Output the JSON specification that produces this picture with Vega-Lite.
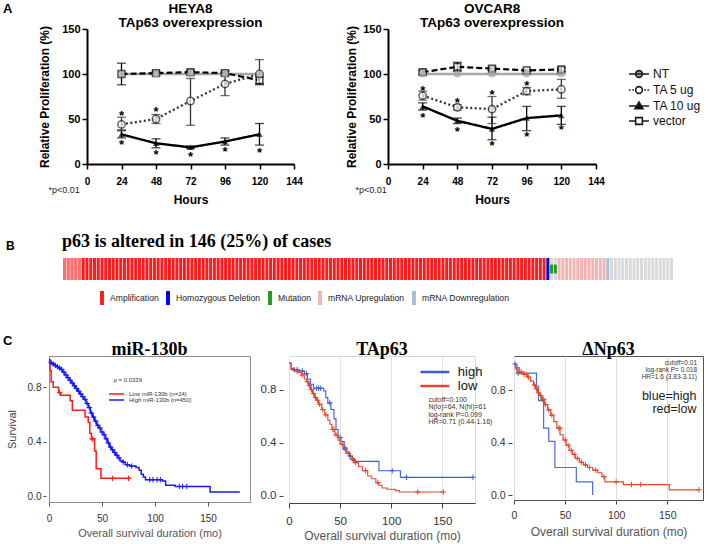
{
 "$schema": "https://vega.github.io/schema/vega-lite/v6.json",
 "background": "white",
 "padding": {"left": 3, "top": 1, "right": 2, "bottom": 2},
 "config": {"font": "Liberation Sans", "view": {"stroke": null}, "title": {"color": "black"}},
 "datasets": {
  "heya": [
   {"s":"NT","t":24,"y":100,"lo":99,"hi":101},{"s":"NT","t":48,"y":100,"lo":99,"hi":101},{"s":"NT","t":72,"y":100,"lo":99,"hi":101},{"s":"NT","t":96,"y":100,"lo":99,"hi":101},{"s":"NT","t":120,"y":100,"lo":99,"hi":101},
   {"s":"vector","t":24,"y":100,"lo":88,"hi":112},{"s":"vector","t":48,"y":101,"lo":99,"hi":103},{"s":"vector","t":72,"y":102,"lo":100,"hi":104},{"s":"vector","t":96,"y":101,"lo":99,"hi":103},{"s":"vector","t":120,"y":93,"lo":89,"hi":97},
   {"s":"TA 5 ug","t":24,"y":44,"lo":38,"hi":52},{"s":"TA 5 ug","t":48,"y":50,"lo":45,"hi":55},{"s":"TA 5 ug","t":72,"y":70,"lo":43,"hi":95},{"s":"TA 5 ug","t":96,"y":89,"lo":76,"hi":99},{"s":"TA 5 ug","t":120,"y":100,"lo":88,"hi":116},
   {"s":"TA 10 ug","t":24,"y":33,"lo":29,"hi":37},{"s":"TA 10 ug","t":48,"y":23,"lo":18,"hi":28},{"s":"TA 10 ug","t":72,"y":18.5,"lo":17,"hi":20},{"s":"TA 10 ug","t":96,"y":25,"lo":21,"hi":29},{"s":"TA 10 ug","t":120,"y":33,"lo":21,"hi":45}
  ],
  "ovcar": [
   {"s":"NT","t":24,"y":100,"lo":99,"hi":101},{"s":"NT","t":48,"y":100,"lo":99,"hi":101},{"s":"NT","t":72,"y":100,"lo":99,"hi":101},{"s":"NT","t":96,"y":100,"lo":99,"hi":101},{"s":"NT","t":120,"y":100,"lo":99,"hi":101},
   {"s":"vector","t":24,"y":102,"lo":100,"hi":104},{"s":"vector","t":48,"y":108,"lo":103,"hi":113},{"s":"vector","t":72,"y":106,"lo":104,"hi":108},{"s":"vector","t":96,"y":104,"lo":103,"hi":105},{"s":"vector","t":120,"y":105,"lo":103,"hi":107},
   {"s":"TA 5 ug","t":24,"y":76,"lo":71,"hi":81},{"s":"TA 5 ug","t":48,"y":63,"lo":60,"hi":66},{"s":"TA 5 ug","t":72,"y":61,"lo":45,"hi":75},{"s":"TA 5 ug","t":96,"y":81,"lo":77,"hi":85},{"s":"TA 5 ug","t":120,"y":83,"lo":73,"hi":94},
   {"s":"TA 10 ug","t":24,"y":64,"lo":60,"hi":68},{"s":"TA 10 ug","t":48,"y":48,"lo":45,"hi":51},{"s":"TA 10 ug","t":72,"y":39,"lo":27,"hi":52},{"s":"TA 10 ug","t":96,"y":51,"lo":37,"hi":64},{"s":"TA 10 ug","t":120,"y":54,"lo":44,"hi":64}
  ],
  "heyaStar": [{"t":24,"y":57},{"t":48,"y":61},{"t":24,"y":24},{"t":48,"y":13},{"t":72,"y":11},{"t":96,"y":16.5},{"t":120,"y":16}],
  "ovcarStar": [{"t":24,"y":84},{"t":24,"y":55},{"t":48,"y":71},{"t":48,"y":39},{"t":72,"y":80},{"t":72,"y":23},{"t":96,"y":90},{"t":96,"y":33},{"t":120,"y":41}],
  "onco": [
   {"i":1,"t":"Amplification","u":1},{"i":2,"t":"Amplification","u":1},{"i":3,"t":"Amplification","u":1},{"i":4,"t":"Amplification","u":1},{"i":5,"t":"Amplification","u":1},
   {"i":6,"t":"Amplification"},{"i":7,"t":"Amplification"},{"i":8,"t":"Amplification"},{"i":9,"t":"Amplification"},{"i":10,"t":"Amplification"},
   {"i":11,"t":"Amplification"},{"i":12,"t":"Amplification"},{"i":13,"t":"Amplification"},{"i":14,"t":"Amplification"},{"i":15,"t":"Amplification"},
   {"i":16,"t":"Amplification"},{"i":17,"t":"Amplification"},{"i":18,"t":"Amplification"},{"i":19,"t":"Amplification"},{"i":20,"t":"Amplification"},
   {"i":21,"t":"Amplification"},{"i":22,"t":"Amplification"},{"i":23,"t":"Amplification"},{"i":24,"t":"Amplification"},{"i":25,"t":"Amplification"},
   {"i":26,"t":"Amplification"},{"i":27,"t":"Amplification"},{"i":28,"t":"Amplification"},{"i":29,"t":"Amplification"},{"i":30,"t":"Amplification"},
   {"i":31,"t":"Amplification"},{"i":32,"t":"Amplification"},{"i":33,"t":"Amplification"},{"i":34,"t":"Amplification"},{"i":35,"t":"Amplification"},
   {"i":36,"t":"Amplification"},{"i":37,"t":"Amplification"},{"i":38,"t":"Amplification"},{"i":39,"t":"Amplification"},{"i":40,"t":"Amplification"},
   {"i":41,"t":"Amplification"},{"i":42,"t":"Amplification"},{"i":43,"t":"Amplification"},{"i":44,"t":"Amplification"},{"i":45,"t":"Amplification"},
   {"i":46,"t":"Amplification"},{"i":47,"t":"Amplification"},{"i":48,"t":"Amplification"},{"i":49,"t":"Amplification"},{"i":50,"t":"Amplification"},
   {"i":51,"t":"Amplification"},{"i":52,"t":"Amplification"},{"i":53,"t":"Amplification"},{"i":54,"t":"Amplification"},{"i":55,"t":"Amplification"},
   {"i":56,"t":"Amplification"},{"i":57,"t":"Amplification"},{"i":58,"t":"Amplification"},{"i":59,"t":"Amplification"},{"i":60,"t":"Amplification"},
   {"i":61,"t":"Amplification"},{"i":62,"t":"Amplification"},{"i":63,"t":"Amplification"},{"i":64,"t":"Amplification"},{"i":65,"t":"Amplification"},
   {"i":66,"t":"Amplification"},{"i":67,"t":"Amplification"},{"i":68,"t":"Amplification"},{"i":69,"t":"Amplification"},{"i":70,"t":"Amplification"},
   {"i":71,"t":"Amplification"},{"i":72,"t":"Amplification"},{"i":73,"t":"Amplification"},{"i":74,"t":"Amplification"},{"i":75,"t":"Amplification"},
   {"i":76,"t":"Amplification"},{"i":77,"t":"Amplification"},{"i":78,"t":"Amplification"},{"i":79,"t":"Amplification"},{"i":80,"t":"Amplification"},
   {"i":81,"t":"Amplification"},{"i":82,"t":"Amplification"},{"i":83,"t":"Amplification"},{"i":84,"t":"Amplification"},{"i":85,"t":"Amplification"},
   {"i":86,"t":"Amplification"},{"i":87,"t":"Amplification"},{"i":88,"t":"Amplification"},{"i":89,"t":"Amplification"},{"i":90,"t":"Amplification"},
   {"i":91,"t":"Amplification"},{"i":92,"t":"Amplification"},{"i":93,"t":"Amplification"},{"i":94,"t":"Amplification"},{"i":95,"t":"Amplification"},
   {"i":96,"t":"Amplification"},{"i":97,"t":"Amplification"},{"i":98,"t":"Amplification"},{"i":99,"t":"Amplification"},{"i":100,"t":"Amplification"},
   {"i":101,"t":"Amplification"},{"i":102,"t":"Amplification"},{"i":103,"t":"Amplification"},{"i":104,"t":"Amplification"},{"i":105,"t":"Amplification"},
   {"i":106,"t":"Amplification"},{"i":107,"t":"Amplification"},{"i":108,"t":"Amplification"},{"i":109,"t":"Amplification"},{"i":110,"t":"Amplification"},
   {"i":111,"t":"Amplification"},{"i":112,"t":"Amplification"},{"i":113,"t":"Amplification"},{"i":114,"t":"Amplification"},{"i":115,"t":"Amplification"},
   {"i":116,"t":"Amplification"},{"i":117,"t":"Amplification"},{"i":118,"t":"Amplification"},{"i":119,"t":"Amplification"},{"i":120,"t":"Amplification"},
   {"i":121,"t":"Amplification"},{"i":122,"t":"Amplification"},{"i":123,"t":"Amplification"},{"i":124,"t":"Amplification"},{"i":125,"t":"Amplification"},
   {"i":126,"t":"Amplification"},{"i":127,"t":"Amplification"},{"i":128,"t":"Amplification"},{"i":129,"t":"Amplification"},
   {"i":130,"t":"Homozygous Deletion"},
   {"i":131,"t":"Mutation"},{"i":132,"t":"Mutation"},
   {"i":133,"t":"mRNA Upregulation"},{"i":134,"t":"mRNA Upregulation"},{"i":135,"t":"mRNA Upregulation"},{"i":136,"t":"mRNA Upregulation"},{"i":137,"t":"mRNA Upregulation"},
   {"i":138,"t":"mRNA Upregulation"},{"i":139,"t":"mRNA Upregulation"},{"i":140,"t":"mRNA Upregulation"},{"i":141,"t":"mRNA Upregulation"},{"i":142,"t":"mRNA Upregulation"},
   {"i":143,"t":"mRNA Upregulation"},{"i":144,"t":"mRNA Upregulation"},{"i":145,"t":"mRNA Upregulation"},
   {"i":146,"t":"mRNA Downregulation"},
   {"i":147,"t":"Unaltered"},{"i":148,"t":"Unaltered"},{"i":149,"t":"Unaltered"},{"i":150,"t":"Unaltered"},{"i":151,"t":"Unaltered"},
   {"i":152,"t":"Unaltered"},{"i":153,"t":"Unaltered"},{"i":154,"t":"Unaltered"},{"i":155,"t":"Unaltered"},{"i":156,"t":"Unaltered"},
   {"i":157,"t":"Unaltered"},{"i":158,"t":"Unaltered"},{"i":159,"t":"Unaltered"},{"i":160,"t":"Unaltered"},{"i":161,"t":"Unaltered"},
   {"i":162,"t":"Unaltered"},{"i":163,"t":"Unaltered"}
  ],
  "kmL": [
   {"g":"Low","t":0,"s":1},{"g":"Low","t":1,"s":0.92},{"g":"Low","t":2,"s":0.84},{"g":"Low","t":4,"s":0.80},{"g":"Low","t":9,"s":0.76},{"g":"Low","t":11,"s":0.74},{"g":"Low","t":20,"s":0.70},{"g":"Low","t":22,"s":0.63},{"g":"Low","t":34,"s":0.58},{"g":"Low","t":37,"s":0.54},{"g":"Low","t":38.5,"s":0.46},{"g":"Low","t":40,"s":0.42},{"g":"Low","t":43,"s":0.33},{"g":"Low","t":44.5,"s":0.20},{"g":"Low","t":49,"s":0.13},{"g":"Low","t":77,"s":0.13},
   {"g":"High","t":0,"s":1},{"g":"High","t":1,"s":0.98},{"g":"High","t":3,"s":0.97},{"g":"High","t":5,"s":0.96},{"g":"High","t":7,"s":0.95},{"g":"High","t":9,"s":0.94},{"g":"High","t":11,"s":0.93},{"g":"High","t":13,"s":0.91},{"g":"High","t":15,"s":0.89},{"g":"High","t":17,"s":0.87},{"g":"High","t":19,"s":0.85},{"g":"High","t":21,"s":0.83},{"g":"High","t":23,"s":0.81},{"g":"High","t":25,"s":0.79},{"g":"High","t":27,"s":0.77},{"g":"High","t":29,"s":0.75},{"g":"High","t":31,"s":0.73},{"g":"High","t":33,"s":0.71},{"g":"High","t":35,"s":0.68},{"g":"High","t":37,"s":0.65},{"g":"High","t":39,"s":0.61},{"g":"High","t":41,"s":0.58},{"g":"High","t":43,"s":0.55},{"g":"High","t":45,"s":0.52},{"g":"High","t":47,"s":0.50},{"g":"High","t":49,"s":0.47},{"g":"High","t":51,"s":0.45},{"g":"High","t":53,"s":0.42},{"g":"High","t":55,"s":0.39},{"g":"High","t":57,"s":0.36},{"g":"High","t":59,"s":0.34},{"g":"High","t":61,"s":0.32},{"g":"High","t":63,"s":0.30},{"g":"High","t":65,"s":0.28},{"g":"High","t":67,"s":0.26},{"g":"High","t":69,"s":0.25},{"g":"High","t":72,"s":0.23},{"g":"High","t":76,"s":0.22},{"g":"High","t":82,"s":0.21},{"g":"High","t":85,"s":0.19},{"g":"High","t":87,"s":0.16},{"g":"High","t":89,"s":0.14},{"g":"High","t":91,"s":0.12},{"g":"High","t":107,"s":0.11},{"g":"High","t":110,"s":0.08},{"g":"High","t":119,"s":0.07},{"g":"High","t":152,"s":0.03},{"g":"High","t":180,"s":0.03}
  ],
  "kmLc": [
   {"g":"Low","t":10,"s":0.76},{"g":"Low","t":40.5,"s":0.42},{"g":"Low","t":41.5,"s":0.42},{"g":"Low","t":60,"s":0.13},{"g":"Low","t":75,"s":0.13},
   {"g":"High","t":2,"s":0.98},{"g":"High","t":4,"s":0.97},{"g":"High","t":6,"s":0.96},{"g":"High","t":8,"s":0.95},{"g":"High","t":10,"s":0.94},{"g":"High","t":12,"s":0.93},{"g":"High","t":14,"s":0.91},{"g":"High","t":16,"s":0.89},{"g":"High","t":18,"s":0.87},{"g":"High","t":20,"s":0.85},{"g":"High","t":22,"s":0.83},{"g":"High","t":24,"s":0.81},{"g":"High","t":26,"s":0.79},{"g":"High","t":28,"s":0.77},{"g":"High","t":30,"s":0.75},{"g":"High","t":32,"s":0.73},{"g":"High","t":34,"s":0.71},{"g":"High","t":36,"s":0.68},{"g":"High","t":38,"s":0.65},{"g":"High","t":40,"s":0.61},{"g":"High","t":42,"s":0.58},{"g":"High","t":44,"s":0.55},{"g":"High","t":46,"s":0.52},{"g":"High","t":48,"s":0.50},{"g":"High","t":50,"s":0.47},{"g":"High","t":52,"s":0.45},{"g":"High","t":54,"s":0.42},{"g":"High","t":56,"s":0.39},{"g":"High","t":58,"s":0.36},{"g":"High","t":60,"s":0.34},{"g":"High","t":62,"s":0.32},{"g":"High","t":64,"s":0.30},{"g":"High","t":66,"s":0.28},{"g":"High","t":70,"s":0.25},{"g":"High","t":74,"s":0.23},{"g":"High","t":78,"s":0.22},{"g":"High","t":95,"s":0.12},{"g":"High","t":98,"s":0.12},{"g":"High","t":102,"s":0.12},{"g":"High","t":105,"s":0.12},{"g":"High","t":123,"s":0.07},{"g":"High","t":126,"s":0.07},{"g":"High","t":130,"s":0.07}
  ],
  "kmM": [
   {"g":"high","t":0,"s":1},{"g":"high","t":2,"s":0.95},{"g":"high","t":10,"s":0.94},{"g":"high","t":15,"s":0.92},{"g":"high","t":18,"s":0.88},{"g":"high","t":21,"s":0.84},{"g":"high","t":24,"s":0.81},{"g":"high","t":34,"s":0.79},{"g":"high","t":36,"s":0.74},{"g":"high","t":38,"s":0.70},{"g":"high","t":41,"s":0.65},{"g":"high","t":44,"s":0.58},{"g":"high","t":46,"s":0.50},{"g":"high","t":48,"s":0.44},{"g":"high","t":51,"s":0.41},{"g":"high","t":54,"s":0.36},{"g":"high","t":56,"s":0.33},{"g":"high","t":59,"s":0.30},{"g":"high","t":62,"s":0.27},{"g":"high","t":65,"s":0.26},{"g":"high","t":88,"s":0.19},{"g":"high","t":109,"s":0.14},{"g":"high","t":180,"s":0.14},
   {"g":"low","t":0,"s":1},{"g":"low","t":2,"s":0.96},{"g":"low","t":5,"s":0.94},{"g":"low","t":9,"s":0.93},{"g":"low","t":12,"s":0.91},{"g":"low","t":15,"s":0.88},{"g":"low","t":17,"s":0.86},{"g":"low","t":19,"s":0.83},{"g":"low","t":21,"s":0.80},{"g":"low","t":23,"s":0.77},{"g":"low","t":25,"s":0.74},{"g":"low","t":27,"s":0.72},{"g":"low","t":29,"s":0.69},{"g":"low","t":32,"s":0.65},{"g":"low","t":35,"s":0.61},{"g":"low","t":38,"s":0.57},{"g":"low","t":40,"s":0.54},{"g":"low","t":42,"s":0.50},{"g":"low","t":45,"s":0.46},{"g":"low","t":48,"s":0.42},{"g":"low","t":50,"s":0.39},{"g":"low","t":53,"s":0.35},{"g":"low","t":56,"s":0.32},{"g":"low","t":60,"s":0.28},{"g":"low","t":64,"s":0.25},{"g":"low","t":68,"s":0.22},{"g":"low","t":72,"s":0.19},{"g":"low","t":77,"s":0.15},{"g":"low","t":81,"s":0.13},{"g":"low","t":85,"s":0.10},{"g":"low","t":88,"s":0.08},{"g":"low","t":91,"s":0.06},{"g":"low","t":96,"s":0.05},{"g":"low","t":104,"s":0.04},{"g":"low","t":108,"s":0.03},{"g":"low","t":151,"s":0.03}
  ],
  "kmMc": [
   {"g":"high","t":5,"s":0.95},{"g":"high","t":8,"s":0.95},{"g":"high","t":13,"s":0.94},{"g":"high","t":17,"s":0.92},{"g":"high","t":27,"s":0.81},{"g":"high","t":29,"s":0.81},{"g":"high","t":31,"s":0.81},{"g":"high","t":40,"s":0.70},{"g":"high","t":50,"s":0.44},{"g":"high","t":55,"s":0.36},{"g":"high","t":60,"s":0.30},{"g":"high","t":63,"s":0.27},{"g":"high","t":101,"s":0.19},{"g":"high","t":115,"s":0.14},{"g":"high","t":180,"s":0.14},
   {"g":"low","t":8,"s":0.94},{"g":"low","t":13,"s":0.91},{"g":"low","t":18,"s":0.86},{"g":"low","t":20,"s":0.83},{"g":"low","t":22,"s":0.80},{"g":"low","t":24,"s":0.77},{"g":"low","t":26,"s":0.74},{"g":"low","t":28,"s":0.72},{"g":"low","t":30,"s":0.69},{"g":"low","t":33,"s":0.65},{"g":"low","t":36,"s":0.61},{"g":"low","t":43,"s":0.50},{"g":"low","t":44,"s":0.50},{"g":"low","t":46,"s":0.46},{"g":"low","t":52,"s":0.39},{"g":"low","t":55,"s":0.35},{"g":"low","t":58,"s":0.32},{"g":"low","t":62,"s":0.28},{"g":"low","t":65,"s":0.25},{"g":"low","t":75,"s":0.19},{"g":"low","t":87,"s":0.10},{"g":"low","t":126,"s":0.03},{"g":"low","t":151,"s":0.03}
  ],
  "kmR": [
   {"g":"high","t":0,"s":1},{"g":"high","t":2,"s":0.96},{"g":"high","t":3,"s":0.93},{"g":"high","t":22,"s":0.83},{"g":"high","t":24,"s":0.72},{"g":"high","t":29,"s":0.51},{"g":"high","t":34,"s":0.41},{"g":"high","t":40,"s":0.21},{"g":"high","t":61,"s":0.10},{"g":"high","t":77,"s":0},
   {"g":"low","t":0,"s":1},{"g":"low","t":2,"s":0.97},{"g":"low","t":5,"s":0.94},{"g":"low","t":9,"s":0.92},{"g":"low","t":13,"s":0.90},{"g":"low","t":16,"s":0.87},{"g":"low","t":19,"s":0.84},{"g":"low","t":21,"s":0.81},{"g":"low","t":23,"s":0.78},{"g":"low","t":25,"s":0.76},{"g":"low","t":27,"s":0.73},{"g":"low","t":30,"s":0.69},{"g":"low","t":33,"s":0.65},{"g":"low","t":36,"s":0.61},{"g":"low","t":39,"s":0.56},{"g":"low","t":42,"s":0.51},{"g":"low","t":45,"s":0.46},{"g":"low","t":48,"s":0.42},{"g":"low","t":51,"s":0.38},{"g":"low","t":54,"s":0.34},{"g":"low","t":57,"s":0.31},{"g":"low","t":60,"s":0.28},{"g":"low","t":64,"s":0.25},{"g":"low","t":68,"s":0.23},{"g":"low","t":72,"s":0.21},{"g":"low","t":77,"s":0.19},{"g":"low","t":82,"s":0.17},{"g":"low","t":86,"s":0.14},{"g":"low","t":89,"s":0.10},{"g":"low","t":107,"s":0.08},{"g":"low","t":152,"s":0.04},{"g":"low","t":181,"s":0.04}
  ],
  "kmRc": [
   {"g":"high","t":1,"s":1.0},{"g":"high","t":4,"s":0.93},
   {"g":"low","t":3,"s":0.97},{"g":"low","t":5,"s":0.94},{"g":"low","t":7,"s":0.94},{"g":"low","t":10,"s":0.92},{"g":"low","t":12,"s":0.92},{"g":"low","t":14,"s":0.90},{"g":"low","t":20,"s":0.84},{"g":"low","t":22,"s":0.81},{"g":"low","t":24,"s":0.78},{"g":"low","t":26,"s":0.76},{"g":"low","t":28,"s":0.73},{"g":"low","t":29,"s":0.73},{"g":"low","t":31,"s":0.69},{"g":"low","t":34,"s":0.65},{"g":"low","t":37,"s":0.61},{"g":"low","t":44,"s":0.51},{"g":"low","t":45,"s":0.51},{"g":"low","t":50,"s":0.42},{"g":"low","t":53,"s":0.38},{"g":"low","t":56,"s":0.34},{"g":"low","t":59,"s":0.31},{"g":"low","t":62,"s":0.28},{"g":"low","t":66,"s":0.25},{"g":"low","t":70,"s":0.23},{"g":"low","t":74,"s":0.21},{"g":"low","t":80,"s":0.19},{"g":"low","t":88,"s":0.14},{"g":"low","t":100,"s":0.10},{"g":"low","t":115,"s":0.08},{"g":"low","t":124,"s":0.08},{"g":"low","t":181,"s":0.04}
  ]
 },
 "resolve": {"scale": {"color": "independent", "fill": "independent", "shape": "independent", "stroke": "independent", "strokeDash": "independent", "strokeWidth": "independent"}},
 "concat": [
  {
   "resolve": {"scale": {"color": "independent", "fill": "independent", "shape": "independent", "stroke": "independent", "strokeDash": "independent", "strokeWidth": "independent"}},
   "hconcat": [
    {
     "width": 245, "height": 135,
     "title": {"text": ["HEYA8", "TAp63 overexpression"], "fontSize": 13.5, "fontWeight": "bold", "lineHeight": 14, "offset": -6, "dx": 19},
     "data": {"name": "heya"},
     "resolve": {"axis": {"x": "independent"}},
     "layer": [
      {"mark": {"type": "rule", "strokeWidth": 1.3},
       "encoding": {
        "x": {"field": "t", "type": "quantitative", "scale": {"domain": [0, 144], "range": [38, 245], "nice": false},
              "axis": {"values": [0,24,48,72,96,120,144], "title": "Hours", "titleFontSize": 12, "titleFontWeight": "bold", "titleColor": "black", "labelFontSize": 10, "labelFontWeight": "bold", "labelColor": "black", "domainColor": "black", "domainWidth": 2, "tickColor": "black", "tickWidth": 1.5, "tickSize": 5, "labelPadding": 7, "titlePadding": 8, "grid": false, "labelFlush": false}},
        "y": {"field": "lo", "type": "quantitative", "scale": {"domain": [0, 150], "nice": false},
              "axis": {"values": [0,50,100,150], "offset": -38, "title": "Relative Proliferation (%)", "titleFontSize": 12, "titleFontWeight": "bold", "titleColor": "black", "labelFontSize": 11, "labelFontWeight": "bold", "labelColor": "black", "domainColor": "black", "domainWidth": 2, "tickColor": "black", "tickWidth": 1.5, "tickSize": 5, "labelPadding": 2, "titlePadding": 10, "grid": false}},
        "y2": {"field": "hi"},
        "stroke": {"field": "s", "type": "nominal", "scale": {"range": ["#a6a6a6","#000000","#333333","#000000"]}, "legend": null}}},
      {"mark": {"type": "tick", "orient": "horizontal", "size": 9, "thickness": 1.3},
       "encoding": {"x": {"field": "t", "type": "quantitative", "axis": null}, "y": {"field": "lo", "type": "quantitative"},
        "color": {"field": "s", "type": "nominal", "scale": {"range": ["#a6a6a6","#000000","#333333","#000000"]}, "legend": null}}},
      {"mark": {"type": "tick", "orient": "horizontal", "size": 9, "thickness": 1.3},
       "encoding": {"x": {"field": "t", "type": "quantitative", "axis": null}, "y": {"field": "hi", "type": "quantitative"},
        "color": {"field": "s", "type": "nominal", "legend": null}}},
      {"mark": {"type": "line"},
       "encoding": {"x": {"field": "t", "type": "quantitative", "axis": null}, "y": {"field": "y", "type": "quantitative"},
        "stroke": {"field": "s", "type": "nominal", "legend": null},
        "strokeDash": {"field": "s", "type": "nominal", "scale": {"range": [[1,0],[1,0],[2,2.5],[6,3]]}, "legend": null},
        "strokeWidth": {"field": "s", "type": "nominal", "scale": {"range": [2.5,2.2,1.5,2]}, "legend": null}}},
      {"transform": [{"filter": {"field": "s", "equal": "vector"}}], "mark": {"type": "point", "shape": "square", "filled": true, "fill": "white", "stroke": "black", "strokeWidth": 1.6, "size": 45},
       "encoding": {"x": {"field": "t", "type": "quantitative", "axis": null}, "y": {"field": "y", "type": "quantitative"}}},
      {"transform": [{"filter": {"field": "s", "equal": "TA 5 ug"}}], "mark": {"type": "point", "shape": "circle", "filled": true, "fill": "white", "stroke": "#222222", "strokeWidth": 1.5, "size": 55},
       "encoding": {"x": {"field": "t", "type": "quantitative", "axis": null}, "y": {"field": "y", "type": "quantitative"}}},
      {"transform": [{"filter": {"field": "s", "equal": "TA 10 ug"}}], "mark": {"type": "point", "shape": "triangle-up", "filled": true, "color": "black", "size": 40},
       "encoding": {"x": {"field": "t", "type": "quantitative", "axis": null}, "y": {"field": "y", "type": "quantitative"}}},
      {"transform": [{"filter": {"field": "s", "equal": "NT"}}], "mark": {"type": "point", "shape": "circle", "filled": true, "color": "#a6a6a6", "size": 50},
       "encoding": {"x": {"field": "t", "type": "quantitative", "axis": null}, "y": {"field": "y", "type": "quantitative"}}},
      {"data": {"name": "heyaStar"}, "mark": {"type": "text", "text": "*", "fontSize": 13, "fontWeight": "bold", "baseline": "middle", "dy": 3, "color": "black"},
       "encoding": {"x": {"field": "t", "type": "quantitative", "axis": {"orient": "bottom", "title": "*p<0.01", "labels": false, "ticks": false, "domain": false, "grid": false, "titleX": -1, "titleY": 25, "titleAlign": "left", "titleBaseline": "middle", "titleFontSize": 9, "titleFontWeight": "normal", "titleColor": "#222"}},
        "y": {"field": "y", "type": "quantitative"}}}
     ]
    },
    {
     "width": 208, "height": 135,
     "title": {"text": ["OVCAR8", "TAp63 overexpression"], "fontSize": 13.5, "fontWeight": "bold", "lineHeight": 14, "offset": -6},
     "data": {"name": "ovcar"},
     "resolve": {"axis": {"x": "independent"}},
     "layer": [
      {"mark": {"type": "rule", "strokeWidth": 1.3},
       "encoding": {
        "x": {"field": "t", "type": "quantitative", "scale": {"domain": [0, 144], "nice": false},
              "axis": {"values": [0,24,48,72,96,120,144], "title": "Hours", "titleFontSize": 12, "titleFontWeight": "bold", "titleColor": "black", "labelFontSize": 10, "labelFontWeight": "bold", "labelColor": "black", "domainColor": "black", "domainWidth": 2, "tickColor": "black", "tickWidth": 1.5, "tickSize": 5, "labelPadding": 7, "titlePadding": 8, "grid": false, "labelFlush": false}},
        "y": {"field": "lo", "type": "quantitative", "scale": {"domain": [0, 150], "nice": false},
              "axis": {"values": [0,50,100,150], "title": "Relative Proliferation (%)", "titleFontSize": 12, "titleFontWeight": "bold", "titleColor": "black", "labelFontSize": 11, "labelFontWeight": "bold", "labelColor": "black", "domainColor": "black", "domainWidth": 2, "tickColor": "black", "tickWidth": 1.5, "tickSize": 5, "labelPadding": 2, "titlePadding": 4, "grid": false}},
        "y2": {"field": "hi"},
        "stroke": {"field": "s", "type": "nominal", "scale": {"range": ["#a6a6a6","#000000","#333333","#000000"]}, "legend": null}}},
      {"mark": {"type": "tick", "orient": "horizontal", "size": 9, "thickness": 1.3},
       "encoding": {"x": {"field": "t", "type": "quantitative", "axis": null}, "y": {"field": "lo", "type": "quantitative"},
        "color": {"field": "s", "type": "nominal", "scale": {"range": ["#a6a6a6","#000000","#333333","#000000"]}, "legend": null}}},
      {"mark": {"type": "tick", "orient": "horizontal", "size": 9, "thickness": 1.3},
       "encoding": {"x": {"field": "t", "type": "quantitative", "axis": null}, "y": {"field": "hi", "type": "quantitative"},
        "color": {"field": "s", "type": "nominal", "legend": null}}},
      {"mark": {"type": "line"},
       "encoding": {"x": {"field": "t", "type": "quantitative", "axis": null}, "y": {"field": "y", "type": "quantitative"},
        "stroke": {"field": "s", "type": "nominal", "legend": null},
        "strokeDash": {"field": "s", "type": "nominal", "scale": {"range": [[1,0],[1,0],[2,2.5],[6,3]]}, "legend": null},
        "strokeWidth": {"field": "s", "type": "nominal", "scale": {"range": [2.5,2.2,1.5,2]}, "legend": null}}},
      {"transform": [{"filter": {"field": "s", "equal": "vector"}}], "mark": {"type": "point", "shape": "square", "filled": true, "fill": "white", "stroke": "black", "strokeWidth": 1.6, "size": 45},
       "encoding": {"x": {"field": "t", "type": "quantitative", "axis": null}, "y": {"field": "y", "type": "quantitative"}}},
      {"transform": [{"filter": {"field": "s", "equal": "TA 5 ug"}}], "mark": {"type": "point", "shape": "circle", "filled": true, "fill": "white", "stroke": "#222222", "strokeWidth": 1.5, "size": 55},
       "encoding": {"x": {"field": "t", "type": "quantitative", "axis": null}, "y": {"field": "y", "type": "quantitative"}}},
      {"transform": [{"filter": {"field": "s", "equal": "TA 10 ug"}}], "mark": {"type": "point", "shape": "triangle-up", "filled": true, "color": "black", "size": 40},
       "encoding": {"x": {"field": "t", "type": "quantitative", "axis": null}, "y": {"field": "y", "type": "quantitative"}}},
      {"transform": [{"filter": {"field": "s", "equal": "NT"}}], "mark": {"type": "point", "shape": "circle", "filled": true, "color": "#a6a6a6", "size": 50},
       "encoding": {"x": {"field": "t", "type": "quantitative", "axis": null}, "y": {"field": "y", "type": "quantitative"}}},
      {"mark": {"type": "point", "opacity": 0, "size": 1, "stroke": "#1a1a1a", "strokeWidth": 1.6},
       "encoding": {"x": {"field": "t", "type": "quantitative", "axis": null}, "y": {"field": "y", "type": "quantitative"},
        "fill": {"field": "s", "type": "nominal", "scale": {"domain": ["NT","TA 5 ug","TA 10 ug","vector"], "range": ["#a6a6a6","#ffffff","#000000","#ffffff"]},
          "legend": {"title": null, "orient": "none", "legendX": 242, "legendY": 36, "symbolSize": 256, "symbolStrokeWidth": 1.6, "labelFontSize": 12, "labelColor": "#111", "labelOffset": 5, "rowPadding": 0, "symbolOpacity": 1}},
        "shape": {"field": "s", "type": "nominal",
          "scale": {"domain": ["NT","TA 5 ug","TA 10 ug","vector"], "range": [
            "M-1.25,0H1.25M-0.42,0A0.42,0.42 0 1,0 0.42,0A0.42,0.42 0 1,0 -0.42,0Z",
            "M-1.25,0H-1.05M-0.85,0H-0.65M0.65,0H0.85M1.05,0H1.25M-0.42,0A0.42,0.42 0 1,0 0.42,0A0.42,0.42 0 1,0 -0.42,0Z",
            "M-1.25,0H1.25M0,-0.5L0.5,0.35H-0.5Z",
            "M-1.25,0H-0.42M0.42,0H1.25M-0.42,-0.42H0.42V0.42H-0.42Z"]},
          "legend": {"title": null, "orient": "none", "legendX": 242, "legendY": 36, "symbolSize": 256, "symbolStrokeWidth": 1.6, "labelFontSize": 12, "labelColor": "#111", "labelOffset": 5, "rowPadding": 0, "symbolOpacity": 1}}}},
      {"data": {"name": "ovcarStar"}, "mark": {"type": "text", "text": "*", "fontSize": 13, "fontWeight": "bold", "baseline": "middle", "dy": 3, "color": "black"},
       "encoding": {"x": {"field": "t", "type": "quantitative", "axis": {"orient": "bottom", "title": "*p<0.01", "labels": false, "ticks": false, "domain": false, "grid": false, "titleX": -33, "titleY": 25, "titleAlign": "left", "titleBaseline": "middle", "titleFontSize": 9, "titleFontWeight": "normal", "titleColor": "#222"}},
        "y": {"field": "y", "type": "quantitative"}}}
     ]
    }
   ],
   "spacing": 94,
   "bounds": "flush",
   "title": {"text": "A", "anchor": "start", "frame": "group", "dx": -46, "dy": 14, "fontSize": 13, "fontWeight": "bold", "offset": 0}
  },
  {
   "resolve": {"scale": {"color": "independent", "fill": "independent", "shape": "independent", "stroke": "independent", "strokeDash": "independent", "strokeWidth": "independent"}},
   "concat": [
    {
     "vconcat": [
      {
       "width": 624, "height": 22,
       "title": {"text": "p63 is altered in 146 (25%) of cases", "font": "Liberation Serif", "fontSize": 18, "fontWeight": "bold", "anchor": "start", "frame": "group", "offset": 7, "dx": 13},
       "data": {"name": "onco"},
       "encoding": {"x": {"field": "i", "type": "ordinal", "scale": {"paddingInner": 0.2, "paddingOuter": 0, "range": [14, 624]}, "axis": null}},
       "layer": [
        {"transform": [{"filter": "datum.t !== 'Mutation'"}], "mark": {"type": "bar"},
         "encoding": {"y": {"datum": 0, "type": "quantitative", "scale": {"domain": [0, 1]}, "axis": null}, "y2": {"datum": 1},
          "color": {"field": "t", "type": "nominal",
            "scale": {"domain": ["Amplification","Homozygous Deletion","Mutation","mRNA Upregulation","mRNA Downregulation","Unaltered"], "range": ["#ff1a1a","#0000ee","#1e9a1e","#f4b4b4","#a8bcdc","#d9d9d9"]},
            "legend": {"title": null, "orient": "none", "legendX": 46, "legendY": 33, "direction": "horizontal", "values": ["Amplification","Homozygous Deletion","Mutation","mRNA Upregulation","mRNA Downregulation"], "symbolType": "M-0.28,-1H0.28V1H-0.28Z", "symbolSize": 196, "symbolStrokeWidth": 0, "labelFontSize": 8.6, "labelOffset": 1, "columnPadding": 2, "labelColor": "#222"}}}},
        {"transform": [{"filter": "datum.t === 'Mutation'"}], "mark": {"type": "bar", "color": "#d9d9d9"},
         "encoding": {"y": {"datum": 0, "type": "quantitative"}, "y2": {"datum": 1}}},
        {"transform": [{"filter": "datum.t === 'Mutation'"}], "mark": {"type": "bar", "color": "#1e9a1e"},
         "encoding": {"y": {"datum": 0.3, "type": "quantitative"}, "y2": {"datum": 0.7}}},
        {"transform": [{"filter": "datum.u === 1"}], "mark": {"type": "bar", "color": "#ffd6d6", "opacity": 0.45},
         "encoding": {"y": {"datum": 0, "type": "quantitative"}, "y2": {"datum": 1}}}
       ]
      }
     ],
     "title": {"text": "B", "anchor": "start", "frame": "group", "dx": -43, "dy": 20, "fontSize": 12, "fontWeight": "bold", "offset": 0}
    },
    {
     "resolve": {"scale": {"color": "independent", "fill": "independent", "shape": "independent", "stroke": "independent", "strokeDash": "independent", "strokeWidth": "independent"}},
     "hconcat": [
      {
       "width": 201, "height": 146,
       "view": {"stroke": "#8c8c8c", "strokeWidth": 1},
       "title": {"text": "miR-130b", "font": "Liberation Serif", "fontSize": 18, "fontWeight": "bold", "offset": -3},
       "layer": [
        {"data": {"name": "kmL"}, "mark": {"type": "line", "interpolate": "step-after", "strokeWidth": 1.5},
         "encoding": {
          "x": {"field": "t", "type": "quantitative", "scale": {"domain": [0, 189.6], "nice": false, "zero": false},
                "axis": {"values": [0,50,100,150], "title": "Overall survival duration (mo)", "titleFontSize": 11, "titleFontWeight": "normal", "titleColor": "#555", "labelFontSize": 10, "labelColor": "#333", "tickColor": "#555", "tickSize": 4, "domain": false, "grid": false, "labelPadding": 7, "titlePadding": 4, "labelFlush": false, "labelOverlap": false}},
          "y": {"field": "s", "type": "quantitative", "scale": {"domain": [-0.044, 1.029], "nice": false, "zero": false},
                "axis": {"values": [0,0.2,0.4,0.6,0.8,1], "format": ".1f", "title": "Survival", "titleFontSize": 11, "titleFontWeight": "normal", "titleColor": "#444", "labelFontSize": 10, "labelColor": "#333", "tickColor": "#555", "tickSize": 3, "offset": 3, "labelPadding": 2, "titlePadding": 10, "domain": false, "grid": false, "labelOverlap": false}},
          "color": {"field": "g", "type": "nominal", "scale": {"domain": ["Low","High"], "range": ["#ff1a1a","#1a1aff"]},
            "legend": {"title": "p = 0.0339", "orient": "none", "legendX": 64.5, "legendY": 21, "titleFontSize": 6, "titleFontWeight": "normal", "titleColor": "#333", "titlePadding": 8, "labelFontSize": 6, "labelColor": "#333", "symbolType": "M-3.75,0H3.75", "symbolSize": 16, "symbolStrokeWidth": 1.5, "rowPadding": 0, "labelOffset": 9.5,
              "labelExpr": "datum.label === 'Low' ? 'Low miR-130b (n=24)' : 'High miR-130b (n=450)'"}}}},
        {"data": {"name": "kmLc"}, "mark": {"type": "point", "shape": "M-1,0H1M0,-1V1", "size": 30, "strokeWidth": 1, "filled": false, "opacity": 1},
         "encoding": {"x": {"field": "t", "type": "quantitative"}, "y": {"field": "s", "type": "quantitative"}, "color": {"field": "g", "type": "nominal"}}}
       ]
      },
      {
       "width": 186, "height": 147,
       "view": {"stroke": "#d8d8d8", "strokeWidth": 1},
       "title": {"text": "TAp63", "font": "Liberation Serif", "fontSize": 18, "fontWeight": "bold", "offset": -3},
       "layer": [
        {"data": {"name": "kmM"}, "mark": {"type": "line", "interpolate": "step-after", "strokeWidth": 1.1},
         "encoding": {
          "x": {"field": "t", "type": "quantitative", "scale": {"domain": [0, 182], "nice": false, "zero": false},
                "axis": {"values": [0,50,100,150], "title": "Overall survival duration (mo)", "titleFontSize": 12, "titleFontWeight": "normal", "titleColor": "#555", "labelFontSize": 11.5, "labelColor": "#333", "domainColor": "#444", "tickColor": "#444", "tickSize": 5, "labelPadding": 7, "titlePadding": 4, "grid": true, "gridColor": "#e3e3e3", "labelFlush": false, "labelOverlap": false}},
          "y": {"field": "s", "type": "quantitative", "scale": {"domain": [-0.053, 1.053], "nice": false, "zero": false},
                "axis": {"values": [0,0.2,0.4,0.6,0.8,1], "format": ".1f", "title": null, "labelFontSize": 11.5, "labelColor": "#333", "tickColor": "#444", "tickSize": 4, "offset": 6, "labelPadding": 3, "domain": false, "grid": false, "labelOverlap": false}},
          "color": {"field": "g", "type": "nominal", "scale": {"domain": ["high","low"], "range": ["#3d5bd9","#e8452c"]},
            "legend": {"title": ["cutoff=0.100","N(lo)=64, N(hi)=61","log-rank P=0.099","HR=0.71 (0.44-1.16)"], "titleOrient": "bottom", "orient": "none", "legendX": 139.4, "legendY": 9.5, "titleFontSize": 7, "titleFontWeight": "normal", "titleColor": "#333", "titleLineHeight": 7.5, "titlePadding": 2, "titleAnchor": "start", "titleLimit": 300, "symbolType": "M-3.6,0H3.6", "symbolSize": 64, "symbolStrokeWidth": 2.5, "labelFontSize": 13, "labelColor": "#111", "labelOffset": 16.4, "rowPadding": -1}}}},
        {"data": {"name": "kmMc"}, "mark": {"type": "point", "shape": "M-1,0H1M0,-1V1", "size": 30, "strokeWidth": 1, "filled": false, "opacity": 1},
         "encoding": {"x": {"field": "t", "type": "quantitative"}, "y": {"field": "s", "type": "quantitative"}, "color": {"field": "g", "type": "nominal"}}}
       ]
      },
      {
       "width": 189, "height": 144,
       "view": {"stroke": "#555555", "strokeWidth": 1},
       "title": {"text": "ΔNp63", "font": "Liberation Serif", "fontSize": 18, "fontWeight": "bold", "offset": -3},
       "layer": [
        {"data": {"name": "kmR"}, "mark": {"type": "line", "interpolate": "step-after", "strokeWidth": 1.2},
         "encoding": {
          "x": {"field": "t", "type": "quantitative", "scale": {"domain": [0, 185], "nice": false, "zero": false},
                "axis": {"values": [0,50,100,150], "title": "Overall survival duration (mo)", "titleFontSize": 12, "titleFontWeight": "normal", "titleColor": "#555", "labelFontSize": 10.5, "labelColor": "#333", "domain": false, "tickColor": "#444", "tickSize": 4, "labelPadding": 6, "titlePadding": 6, "grid": true, "gridColor": "#dedede", "labelFlush": false, "labelOverlap": false}},
          "y": {"field": "s", "type": "quantitative", "scale": {"domain": [-0.038, 1.061], "nice": false, "zero": false},
                "axis": {"values": [0,0.2,0.4,0.6,0.8,1], "format": ".1f", "title": null, "labelFontSize": 10.5, "labelColor": "#333", "tickColor": "#444", "tickSize": 4, "offset": 2, "labelPadding": 3, "domain": false, "grid": false, "labelOverlap": false}},
          "color": {"field": "g", "type": "nominal", "scale": {"domain": ["high","low"], "range": ["#4a6ae0","#e04a2a"]},
            "legend": {"title": ["cutoff=0.01","log-rank P= 0.018","HR=1.6 (3.83-3.11)"], "orient": "none", "legendX": 70, "legendY": 4, "titleFontSize": 6.5, "titleFontWeight": "normal", "titleColor": "#333", "titleAnchor": "end", "titleAlign": "right", "titleLineHeight": 7, "titlePadding": 9, "symbolSize": 1, "symbolOpacity": 0, "symbolStrokeWidth": 0, "labelAlign": "right", "labelOffset": 100, "labelFontSize": 12.5, "labelColor": "#222", "rowPadding": -2,
              "labelExpr": "datum.label === 'high' ? 'blue=high' : 'red=low'"}}}},
        {"data": {"name": "kmRc"}, "mark": {"type": "point", "shape": "M-1,0H1M0,-1V1", "size": 30, "strokeWidth": 1, "filled": false, "opacity": 1},
         "encoding": {"x": {"field": "t", "type": "quantitative"}, "y": {"field": "s", "type": "quantitative"}, "color": {"field": "g", "type": "nominal"}}}
       ]
      }
     ],
     "spacing": 39,
     "bounds": "flush",
     "title": {"text": "C", "anchor": "start", "frame": "group", "dx": -46, "dy": 7, "fontSize": 13, "fontWeight": "bold", "offset": 0}
    }
   ],
   "columns": 1, "align": "none", "bounds": "full", "spacing": 29
  }
 ],
 "columns": 1, "align": "none", "bounds": "full", "spacing": 28
}
